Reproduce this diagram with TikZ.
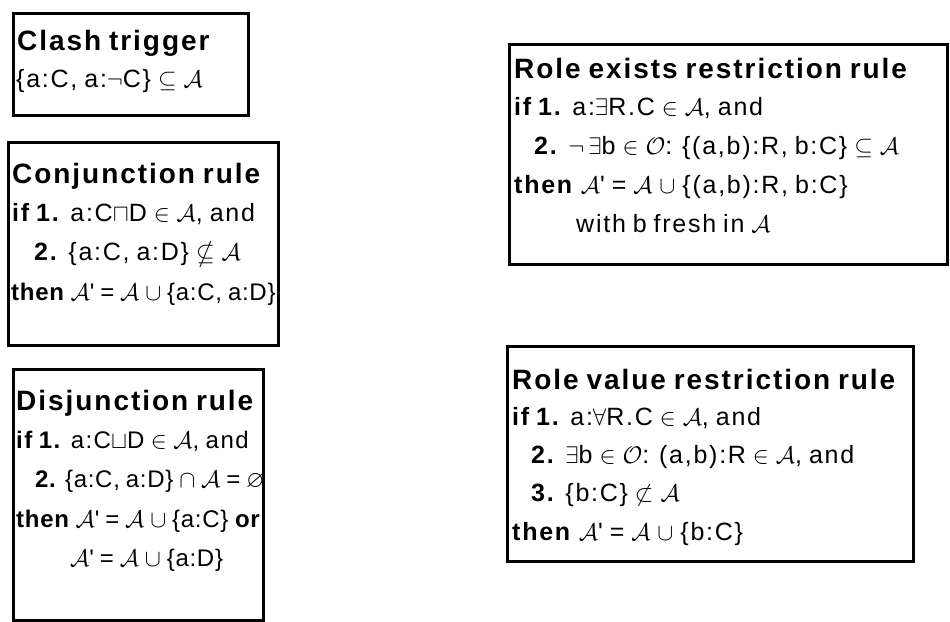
\RequirePackage{fix-cm}
\documentclass[tikz,border=0pt]{standalone}
\usepackage{amssymb}
\usepackage{fontspec}
\setmainfont{Liberation Sans}[WordSpace=0.8]
% math symbols at the size of the text
\newcommand{\sy}[1]{{\fontsize{24}{28}\selectfont$#1$}}
\newcommand{\cA}{\sy{\mathcal{A}}}
\newcommand{\cAp}{\sy{\mathcal{A}}\textquotesingle}
\tikzset{
  rulebox/.style={draw=black, line width=3pt, anchor=north west, inner sep=0pt},
  ln/.style={anchor=base west, inner sep=0pt, font=\fontsize{25}{28}\selectfont\addfontfeatures{LetterSpace=7}},
  lnm/.style={anchor=base west, inner sep=0pt, font=\fontsize{24}{28}\selectfont\addfontfeatures{LetterSpace=6}},
  lnt/.style={anchor=base west, inner sep=0pt, font=\fontsize{24}{28}\selectfont\addfontfeatures{LetterSpace=3}},
  ttl/.style={anchor=base west, inner sep=0pt, font=\fontsize{28}{32}\selectfont\bfseries\addfontfeatures{LetterSpace=7}},
}
\begin{document}
\begin{tikzpicture}[x=1pt,y=1pt]
\useasboundingbox (0,0) rectangle (950,-621);
\fill[white] (0,0) rectangle (950,-621);

% boxes
\node[rulebox, minimum width=235, minimum height=102] (clash) at (12,-12) {};
\node[rulebox, minimum width=270, minimum height=203] (conj) at (7,-141) {};
\node[rulebox, minimum width=250, minimum height=251] (disj) at (12,-368) {};
\node[rulebox, minimum width=438, minimum height=220] (rex) at (508,-43) {};
\node[rulebox, minimum width=406, minimum height=215] (rval) at (506,-345) {};

% clash trigger
\node[ttl] (c1) at (17,-50) {Clash trigger};
\node[ln]  (c2) at (16,-87) {\{a:C, a:\sy{\neg}C\} \sy{\subseteq} \cA};

% conjunction
\node[ttl] (k1) at (12,-183) {Conjunction rule};
\node[ln]  (k2) at (12,-221) {\textbf{if 1.} a:C\sy{\sqcap}D \sy{\in} \cA, and};
\node[ln]  (k3) at (34,-260) {\textbf{2.} \{a:C, a:D\} \sy{\nsubseteq} \cA};
\node[lnt] (k4) at (11,-300) {\textbf{then} \cAp{} = \cA{} \sy{\cup} \{a:C, a:D\}};

% disjunction
\node[ttl] (d1) at (16,-410) {Disjunction rule};
\node[lnm] (d2) at (16,-448) {\textbf{if 1.} a:C\sy{\sqcup}D \sy{\in} \cA, and};
\node[lnt] (d3) at (35,-487) {\textbf{2.} \{a:C, a:D\} \sy{\cap} \cA{} = \sy{\varnothing}};
\node[lnt] (d4) at (16,-527) {\textbf{then} \cAp{} = \cA{} \sy{\cup} \{a:C\} \textbf{or}};
\node[lnt] (d5) at (70,-566) {\cAp{} = \cA{} \sy{\cup} \{a:D\}};

% role exists
\node[ttl] (e1) at (514,-78) {Role exists restriction rule};
\node[ln]  (e2) at (514,-115) {\textbf{if 1.} a:\sy{\exists}R.C \sy{\in} \cA, and};
\node[ln]  (e3) at (534,-154) {\textbf{2.} \sy{\neg\,\exists}b \sy{\in} \sy{\mathcal{O}}: \{(a,b):R, b:C\} \sy{\subseteq} \cA};
\node[ln]  (e4) at (514,-193) {\textbf{then} \cAp{} = \cA{} \sy{\cup} \{(a,b):R, b:C\}};
\node[ln]  (e5) at (576,-232) {with b fresh in \cA};

% role value
\node[ttl] (v1) at (512,-389) {Role value restriction rule};
\node[ln]  (v2) at (512,-425) {\textbf{if 1.} a:\sy{\forall}R.C \sy{\in} \cA, and};
\node[ln]  (v3) at (531,-463) {\textbf{2.} \sy{\exists}b \sy{\in} \sy{\mathcal{O}}: (a,b):R \sy{\in} \cA, and};
\node[ln]  (v4) at (531,-501) {\textbf{3.} \{b:C\} \sy{\not\subset} \cA};
\node[ln]  (v5) at (512,-540) {\textbf{then} \cAp{} = \cA{} \sy{\cup} \{b:C\}};
\end{tikzpicture}
\end{document}
